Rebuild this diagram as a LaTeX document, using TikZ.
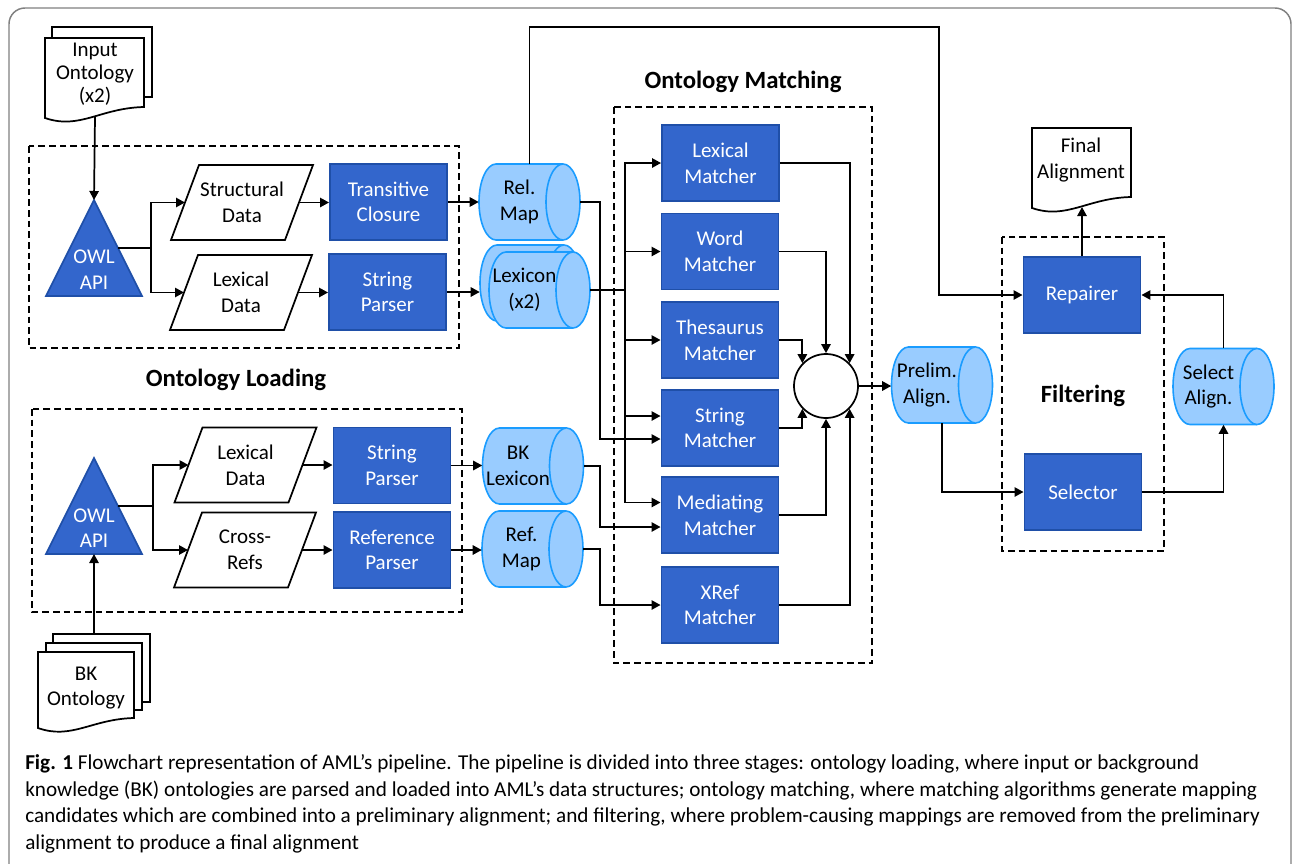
\documentclass[tikz,border=0pt]{standalone}
\usepackage{fontspec}
\setmainfont{Carlito}
\usetikzlibrary{shapes.geometric,arrows.meta,calc}
\definecolor{boxfill}{HTML}{3366CC}
\definecolor{boxline}{HTML}{1F4FA8}
\definecolor{cylfill}{HTML}{99CCFF}
\definecolor{cylline}{HTML}{1A9CFF}
\definecolor{framegray}{HTML}{808080}

% parallelogram data symbol: name, centre x, centre y, text
\newcommand\slantbox[4]{%
  \draw[slant] (#2-71,#3+37.5) -- (#2-43,#3-37.5) -- (#2+71,#3-37.5) -- (#2+43,#3+37.5) -- cycle;
  \node[plaintext] (#1) at (#2,#3) {#4};
  \coordinate (#1-in) at (#2-57,#3);
  \coordinate (#1-out) at (#2+57,#3);
}

% horizontal data store (cylinder): name, centre x, centre y, text, text shift
\newcommand\storebox[5]{%
  \filldraw[storeline] (#2-33.5,#3-38) -- (#2+33.5,#3-38)
    arc[start angle=90, end angle=-90, x radius=12.75pt, y radius=28.5pt]
    -- (#2-33.5,#3+38)
    arc[start angle=270, end angle=90, x radius=12.75pt, y radius=28.5pt] -- cycle;
  \draw[storeline] (#2+33.5,#3-38)
    arc[start angle=90, end angle=270, x radius=12.75pt, y radius=28.5pt];
  \node[storenode] (#1) at (#2,#3) {};
  \node[plaintext] (#1-text) at (#2+#5,#3) {#4};
}

\begin{document}
\begin{tikzpicture}[x=0.75pt,y=-0.75pt,
  font=\fontsize{15.75pt}{19.2pt}\selectfont,
  proc/.style={draw=boxline, fill=boxfill, line width=1.2pt, text=white,
    minimum width=88pt, minimum height=57pt, inner sep=0pt, align=center},
  storeline/.style={draw=cylline, fill=cylfill, line width=1.2pt},
  storenode/.style={minimum width=75.75pt, minimum height=57pt, inner sep=0pt},
  slant/.style={draw=black, fill=white, line width=1.3pt},
  plaintext/.style={inner sep=0pt, align=center},
  doc/.style={draw=black, fill=white, line width=1.3pt},
  tri/.style={draw=boxline, fill=boxfill, line width=1.2pt},
  dashbox/.style={draw=black, line width=1.3pt, dash pattern=on 5pt off 3pt},
  title/.style={font=\fontsize{18.6pt}{22pt}\selectfont\bfseries, inner sep=0pt},
  ln/.style={line width=1.3pt},
  arr/.style={ln, -{Triangle[length=6.75pt,width=7pt]}},
  captext/.style={font=\fontsize{15.9pt}{19pt}\selectfont, inner sep=0pt, anchor=base west},
]
\useasboundingbox (0,0) rectangle (1293,864);

% outer frame
\draw[framegray, line width=1.1pt, rounded corners=12] (9,900) -- (9,8) -- (1291,8) -- (1291,900);

% ---------- Ontology loading ----------
\draw[dashbox] (29,146) rectangle (459,348);
\draw[dashbox] (32,409) rectangle (462,612);
\node[title] (loadtitle) at (236,380) {Ontology Loading};

% input ontology document (two pages)
\draw[doc] (52,27) rectangle (152,97);
\draw[doc] (45,38) -- (144,38) -- (144,107) .. controls (100,108) and (80,130) .. (45,118) -- cycle;
\node[plaintext, font=\fontsize{15.75pt}{17.25pt}\selectfont] (indoc) at (95,74) {Input\\Ontology\\(x2)};
\coordinate (indoc-b) at (95,117);

% OWL API (upper)
\filldraw[tri] (94,200) -- (142,296) -- (46,296) -- cycle;
\node[plaintext, text=white] (owlA) at (94,269.5) {OWL\\API};
\coordinate (owlA-top) at (94,200);
\coordinate (owlA-r) at (118,248);

\slantbox{sd}{242}{202.5}{Structural\\Data}
\slantbox{ldA}{241}{292.5}{Lexical\\Data}
\node[proc] (tc) at (388.5,202) {Transitive\\Closure};
\node[proc] (spA) at (387.5,292) {String\\Parser};

% BK ontology document (three pages)
\draw[doc] (53,634) rectangle (150,702);
\draw[doc] (46,643) rectangle (142,710);
\draw[doc] (38,652) -- (134,652) -- (134,718) .. controls (91.8,719) and (71.6,740) .. (38,728) -- cycle;
\node[plaintext] (bkdoc) at (86,688) {BK\\Ontology};
\coordinate (bkdoc-top) at (94,634);

% OWL API (lower)
\filldraw[tri] (94,458) -- (142,554) -- (46,554) -- cycle;
\node[plaintext, text=white] (owlB) at (94,528) {OWL\\API};
\coordinate (owlB-bot) at (94,554);
\coordinate (owlB-r) at (118,506);

\slantbox{ldB}{245.5}{465}{Lexical\\Data}
\slantbox{cr}{245}{550}{Cross-\\Refs}
\node[proc] (spB) at (392,465.5) {String\\Parser};
\node[proc] (rp) at (392,550) {Reference\\Parser};

% data stores
\storebox{relmap}{529.5}{202}{Rel.\\Map}{-10}
\storebox{lexB}{530.5}{283}{}{0}
\storebox{lexF}{539.5}{290}{Lexicon\\(x2)}{-15}
\storebox{bklex}{533}{466}{BK\\Lexicon}{-15}
\storebox{refmap}{532.5}{549}{Ref.\\Map}{-11}

% ---------- Ontology matching ----------
\draw[dashbox] (614,107) rectangle (872,663);
\node[title] (matchtitle) at (743,82) {Ontology Matching};
\node[proc] (lm) at (720.5,163) {Lexical\\Matcher};
\node[proc] (wm) at (720,251.5) {Word\\Matcher};
\node[proc] (tm) at (720,340) {Thesaurus\\Matcher};
\node[proc] (stm) at (720,428) {String\\Matcher};
\node[proc] (mm) at (720,515) {Mediating\\Matcher};
\node[proc] (xm) at (720,605) {XRef\\Matcher};
\node[circle, draw=black, fill=white, line width=1.3pt, minimum size=48pt, inner sep=0pt] (comb) at (826,386) {};

% ---------- Filtering ----------
\draw[dashbox] (1002,237) rectangle (1164,551);
\node[title] (filtitle) at (1083,396) {Filtering};
\node[proc] (rep) at (1082,295) {Repairer};
\node[proc] (sel) at (1083,492) {Selector};
\storebox{prelim}{942}{385}{Prelim.\\Align.}{-15}
\storebox{selal}{1223.5}{386.5}{Select\\Align.}{-15}
\draw[doc] (1032,128) -- (1131,128) -- (1131,197) .. controls (1087.4,198) and (1066.7,220) .. (1032,208) -- cycle;
\node[plaintext] (fdoc) at (1081,160) {Final\\Alignment};
\coordinate (fdoc-b) at (1082,207);

% ---------- connectors ----------
\draw[arr] (indoc-b) -- (owlA-top);
\coordinate (busA) at (151,248);
\draw[ln] (owlA-r) -- (busA);
\draw[arr] (busA) |- (sd-in);
\draw[arr] (busA) |- (ldA-in);
\draw[arr] (sd-out) -- (sd-out -| tc.west);
\draw[arr] (ldA-out) -- (ldA-out -| spA.west);
\draw[arr] (tc.east) -- (tc.east -| relmap.west);
\draw[arr] (spA.east) -- (spA.east -| lexB.west);

\draw[arr] (bkdoc-top) -- (owlB-bot);
\coordinate (busB) at (153,506);
\draw[ln] (owlB-r) -- (busB);
\draw[arr] (busB) |- (ldB-in);
\draw[arr] (busB) |- (cr-in);
\draw[arr] (ldB-out) -- (ldB-out -| spB.west);
\draw[arr] (cr-out) -- (cr-out -| rp.west);
\draw[arr] (spB.east) -- (spB.east -| bklex.west);
\draw[arr] (rp.east) -- (rp.east -| refmap.west);

\coordinate (jR) at (600,202);
\draw[arr] (relmap.east) -- (jR) |- ($(stm.west)+(0,11)$);
\coordinate (busL) at (625,290);
\draw[ln] (lexF.east) -- (busL);
\draw[arr] (busL) |- (lm.west);
\draw[arr] (busL) |- (wm.west);
\draw[arr] (busL) |- (tm.west);
\draw[arr] (busL) |- ($(stm.west)+(0,-12)$);
\draw[arr] (busL) |- ($(mm.west)+(0,-12.5)$);
\coordinate (jB) at (600,466);
\draw[arr] (bklex.east) -- (jB) |- ($(mm.west)+(0,12)$);
\coordinate (jX) at (600,549);
\draw[arr] (refmap.east) -- (jX) |- (xm.west);

\draw[arr] (lm.east) -| (comb.44);
\draw[arr] (wm.east) -| (comb.north);
\draw[arr] (tm.east) -| (comb.136);
\draw[arr] (stm.east) -| (comb.224);
\draw[arr] (mm.east) -| (comb.south);
\draw[arr] (xm.east) -| (comb.-44);

\coordinate (topc) at (939,27);
\draw[arr] (relmap.north) |- (topc) |- (rep.west);
\draw[arr] (comb.east) -- (comb.east -| prelim.west);
\draw[arr] (prelim.south) |- (sel.west);
\draw[arr] (sel.east) -| (selal.south);
\draw[arr] (selal.north) |- (rep.east);
\draw[arr] (rep.north) -- (fdoc-b);

% ---------- caption ----------
\node[captext] (cap1) at (25,769) {\textbf{Fig. 1} Flowchart representation of AML’s pipeline. The pipeline is divided into three stages: ontology loading, where input or background};
\node[captext] (cap2) at (25,796) {knowledge (BK) ontologies are parsed and loaded into AML’s data structures; ontology matching, where matching algorithms generate mapping};
\node[captext] (cap3) at (25,822) {candidates which are combined into a preliminary alignment; and filtering, where problem-causing mappings are removed from the preliminary};
\node[captext] (cap4) at (25,849) {alignment to produce a final alignment};
\end{tikzpicture}
\end{document}
